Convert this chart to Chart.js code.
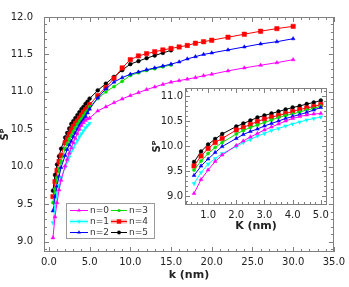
<!DOCTYPE html>
<html>
<head>
<meta charset="utf-8">
<script src="https://cdn.jsdelivr.net/npm/chart.js@4.4.1/dist/chart.umd.min.js"></script>
<style>
  html, body { margin: 0; padding: 0; background: #fff; }
  #wrap { position: relative; width: 349px; height: 287px; }
  #main { position: absolute; left: 0; top: 0; }
  #inset { position: absolute; left: 150px; top: 80px; }
</style>
</head>
<body>
<div id="wrap">
  <canvas id="main" width="349" height="287"></canvas>
  <canvas id="inset" width="184" height="160"></canvas>
</div>
<script>
// k (nm) of every sample
var kValues = [0.5, 0.75, 1.0, 1.25, 1.5, 2.0, 2.25, 2.5, 2.75, 3.0, 3.25, 3.5, 3.75, 4.0, 4.25, 4.5, 4.75, 5.0,
               6, 7, 8, 9, 10, 11, 12, 13, 14, 15, 16,
               17, 18, 19, 20, 22, 24, 26, 28, 30];

// S^P for each n (shorter series stop earlier)
var seriesN0 = [9.05, 9.33, 9.52, 9.69, 9.82, 10.01, 10.10, 10.18, 10.25, 10.32, 10.38, 10.44, 10.50, 10.55, 10.59, 10.62, 10.64, 10.65,
                10.745, 10.80, 10.855, 10.905, 10.95, 10.99, 11.03, 11.065, 11.10, 11.13, 11.15,
                11.17, 11.19, 11.215, 11.235, 11.28, 11.32, 11.355, 11.39, 11.43];
var seriesN1 = [9.25, 9.47, 9.64, 9.75, 9.85, 9.99, 10.07, 10.13, 10.20, 10.25, 10.31, 10.35, 10.40, 10.44, 10.48, 10.52, 10.55, 10.58];
var seriesN2 = [9.41, 9.60, 9.74, 9.87, 9.99, 10.15, 10.23, 10.29, 10.34, 10.40, 10.45, 10.50, 10.55, 10.59, 10.63, 10.67, 10.72, 10.77,
                10.92, 11.04, 11.13, 11.19, 11.235, 11.265, 11.295, 11.32, 11.345, 11.37, 11.40,
                11.44, 11.47, 11.50, 11.52, 11.56, 11.60, 11.64, 11.67, 11.71];
var seriesN3 = [9.52, 9.70, 9.85, 9.97, 10.07, 10.24, 10.31, 10.37, 10.42, 10.47, 10.52, 10.57, 10.61, 10.64, 10.68, 10.72, 10.75, 10.80,
                10.91, 11.00, 11.07, 11.14, 11.22, 11.255, 11.285, 11.31, 11.335, 11.36];
var seriesN4 = [9.60, 9.80, 9.95, 10.07, 10.15, 10.32, 10.37, 10.43, 10.49, 10.54, 10.58, 10.61, 10.65, 10.69, 10.73, 10.76, 10.79, 10.83,
                10.95, 11.06, 11.18, 11.32, 11.43, 11.48, 11.51, 11.535, 11.56, 11.58, 11.60,
                11.62, 11.65, 11.67, 11.69, 11.73, 11.77, 11.81, 11.845, 11.875];
var seriesN5 = [9.68, 9.89, 10.03, 10.14, 10.24, 10.39, 10.45, 10.51, 10.57, 10.61, 10.65, 10.69, 10.73, 10.77, 10.80, 10.84, 10.87, 10.91,
                11.02, 11.11, 11.20, 11.29, 11.37, 11.41, 11.45, 11.485, 11.52, 11.555];

var seriesLabels = ['n=0', 'n=1', 'n=2', 'n=3', 'n=4', 'n=5'];
var seriesValues = [seriesN0, seriesN1, seriesN2, seriesN3, seriesN4, seriesN5];

var mainXTicks = [0, 5, 10, 15, 20, 25, 30, 35];
var mainYTicks = [9.0, 9.5, 10.0, 10.5, 11.0, 11.5, 12.0];
var insetXTicks = [1, 2, 3, 4, 5];
var insetYTicks = [9.0, 9.5, 10.0, 10.5, 11.0];
var insetMaxK = 5;

var styles = [
    { color: '#ff00ff', point: 'triangle', radius: 2.2, rotation: 0 },
    { color: '#00ffff', point: 'triangle', radius: 2.2, rotation: 180, band: true },
    { color: '#0000ff', point: 'triangle', radius: 2.2, rotation: 0 },
    { color: '#00e000', point: 'circle', radius: 1.6, rotation: 0 },
    { color: '#ff0000', point: 'rect', radius: 3.1, rotation: 0, band: true },
    { color: '#000000', point: 'circle', radius: 1.9, rotation: 0 }
];

Chart.defaults.font.family = "'DejaVu Sans', sans-serif";
Chart.defaults.color = '#222';

function makeDatasets(maxK) {
    var datasets = [];
    for (var i = 0; i < seriesValues.length; i++) {
        var s = styles[i];
        var pts = [];
        for (var j = 0; j < seriesValues[i].length; j++) {
            if (kValues[j] > maxK) break;
            pts.push({ x: kValues[j], y: seriesValues[i][j] });
        }
        datasets.push({
            label: seriesLabels[i],
            data: pts,
            borderColor: s.color,
            backgroundColor: s.color,
            borderWidth: 1,
            tension: 0,
            pointStyle: s.point,
            pointRotation: s.rotation,
            pointRadius: s.radius,
            pointBorderWidth: 0.5,
            pointBorderColor: s.color,
            pointBackgroundColor: s.color
        });
    }
    return datasets;
}

// frame + inward ticks on all four sides
var boxTicks = {
    id: 'boxTicks',
    afterDatasetsDraw: function(chart, args, opts) {
        var ctx = chart.ctx, a = chart.chartArea, x = chart.scales.x, y = chart.scales.y;
        ctx.save();
        ctx.strokeStyle = '#808080';
        ctx.lineWidth = 1;
        ctx.beginPath();
        var n0 = Math.ceil(x.min / opts.xMinor - 1e-6), n1 = Math.floor(x.max / opts.xMinor + 1e-6);
        for (var i = n0; i <= n1; i++) {
            var v = i * opts.xMinor;
            var px = Math.round(x.getPixelForValue(v)) + 0.5;
            var major = Math.abs(v / opts.xMajor - Math.round(v / opts.xMajor)) < 1e-6;
            var len = major ? 5 : 3;
            ctx.moveTo(px, a.bottom); ctx.lineTo(px, a.bottom - len);
            ctx.moveTo(px, a.top); ctx.lineTo(px, a.top + len);
        }
        n0 = Math.ceil(y.min / opts.yMinor - 1e-6); n1 = Math.floor(y.max / opts.yMinor + 1e-6);
        for (var k = n0; k <= n1; k++) {
            var w = k * opts.yMinor;
            var py = Math.round(y.getPixelForValue(w)) + 0.5;
            var majorY = Math.abs(w / opts.yMajor - Math.round(w / opts.yMajor)) < 1e-6;
            var lenY = majorY ? 5 : 3;
            ctx.moveTo(a.left, py); ctx.lineTo(a.left + lenY, py);
            ctx.moveTo(a.right, py); ctx.lineTo(a.right - lenY, py);
        }
        ctx.stroke();
        ctx.strokeRect(Math.round(a.left) + 0.5, Math.round(a.top) + 0.5,
                       Math.round(a.right - a.left) - 1, Math.round(a.bottom - a.top) - 1);
        ctx.restore();
    }
};

function drawMarker(ctx, s, x, y) {
    ctx.fillStyle = s.color;
    ctx.beginPath();
    if (s.point === 'circle') {
        ctx.arc(x, y, s.radius, 0, Math.PI * 2);
    } else if (s.point === 'rect') {
        var h = s.radius * Math.SQRT1_2;
        ctx.rect(x - h, y - h, 2 * h, 2 * h);
    } else {
        var r = s.radius, dir = s.rotation ? -1 : 1;
        ctx.moveTo(x, y - dir * r);
        ctx.lineTo(x - r * 0.87, y + dir * r * 0.5);
        ctx.lineTo(x + r * 0.87, y + dir * r * 0.5);
        ctx.closePath();
    }
    ctx.fill();
}

// two-column legend box in the lower left of the main plot
var boxLegend = {
    id: 'boxLegend',
    afterDraw: function(chart) {
        var ctx = chart.ctx;
        ctx.save();
        ctx.fillStyle = '#fff';
        ctx.fillRect(66.5, 203.5, 88, 35);
        ctx.strokeStyle = '#999';
        ctx.lineWidth = 1;
        ctx.strokeRect(66.5, 203.5, 88, 35);
        var rows = [210.5, 221.5, 232.5];
        var cols = [[70, 88], [111, 127]];
        ctx.font = "9px 'DejaVu Sans'";
        ctx.textBaseline = 'middle';
        for (var i = 0; i < seriesLabels.length; i++) {
            var s = styles[i];
            var c = cols[Math.floor(i / 3)], y = rows[i % 3];
            if (s.band) {
                ctx.globalAlpha = 0.3;
                ctx.strokeStyle = s.color;
                ctx.lineWidth = 4;
                ctx.beginPath(); ctx.moveTo(c[0], y); ctx.lineTo(c[1], y); ctx.stroke();
                ctx.globalAlpha = 1;
            }
            ctx.strokeStyle = s.color;
            ctx.lineWidth = 1;
            ctx.beginPath(); ctx.moveTo(c[0], y); ctx.lineTo(c[1], y); ctx.stroke();
            drawMarker(ctx, s, (c[0] + c[1]) / 2, y);
            ctx.fillStyle = '#333';
            ctx.fillText(seriesLabels[i], c[1] + 2, y + 0.5);
        }
        ctx.restore();
    }
};

function fixedTicks(list) {
    return function(scale) {
        scale.ticks = list.map(function(v) { return { value: v }; });
    };
}

new Chart(document.getElementById('main'), {
    type: 'line',
    data: { datasets: makeDatasets(Infinity) },
    options: {
        responsive: false,
        animation: false,
        devicePixelRatio: 1,
        layout: { padding: { top: 8, right: 15, left: 0, bottom: 0 } },
        plugins: {
            legend: { display: false },
            tooltip: { enabled: false },
            boxTicks: { xMinor: 1, xMajor: 5, yMinor: 0.1, yMajor: 0.5 }
        },
        scales: {
            x: {
                type: 'linear',
                min: -0.6,
                max: 35,
                grid: { display: false, drawTicks: false },
                border: { display: false },
                afterBuildTicks: fixedTicks(mainXTicks),
                afterFit: function(scale) { scale.height = 35; },
                ticks: {
                    padding: 4,
                    maxRotation: 0,
                    font: { size: 10 },
                    callback: function(v) { return Number(v).toFixed(1); }
                },
                title: {
                    display: true,
                    text: 'k (nm)',
                    font: { size: 11, weight: 'bold' },
                    padding: { top: 0, bottom: 5 }
                }
            },
            y: {
                min: 8.86,
                max: 12.0,
                grid: { display: false, drawTicks: false },
                border: { display: false },
                afterBuildTicks: fixedTicks(mainYTicks),
                afterFit: function(scale) { scale.width = 44; },
                ticks: {
                    padding: 11,
                    font: { size: 10 },
                    callback: function(v) { return Number(v).toFixed(1); }
                },
                title: {
                    display: true,
                    text: 'Sᴾ',
                    font: { size: 10, weight: 'bold', lineHeight: 1 },
                    padding: { top: 0, bottom: 0 }
                }
            }
        }
    },
    plugins: [boxTicks, boxLegend]
});

new Chart(document.getElementById('inset'), {
    type: 'line',
    data: { datasets: makeDatasets(insetMaxK) },
    options: {
        responsive: false,
        animation: false,
        devicePixelRatio: 1,
        layout: { padding: { top: 8, right: 7, left: 0, bottom: 0 } },
        plugins: {
            legend: { display: false },
            tooltip: { enabled: false },
            boxTicks: { xMinor: 0.2, xMajor: 1, yMinor: 0.1, yMajor: 0.5 }
        },
        scales: {
            x: {
                type: 'linear',
                min: 0.18,
                max: 5.22,
                grid: { display: false, drawTicks: false },
                border: { display: false },
                afterBuildTicks: fixedTicks(insetXTicks),
                afterFit: function(scale) { scale.height = 35; },
                ticks: {
                    padding: 4,
                    maxRotation: 0,
                    font: { size: 10 },
                    callback: function(v) { return Number(v).toFixed(1); }
                },
                title: {
                    display: true,
                    text: 'K (nm)',
                    font: { size: 11, weight: 'bold' },
                    padding: { top: 0, bottom: 7 }
                }
            },
            y: {
                min: 8.82,
                max: 11.16,
                grid: { display: false, drawTicks: false },
                border: { display: false },
                afterBuildTicks: fixedTicks(insetYTicks),
                afterFit: function(scale) { scale.width = 35; },
                ticks: {
                    padding: 2,
                    font: { size: 10 },
                    callback: function(v) { return Number(v).toFixed(1); }
                },
                title: {
                    display: true,
                    text: 'Sᴾ',
                    font: { size: 10, weight: 'bold', lineHeight: 1 },
                    padding: { top: 2.5, bottom: 0 }
                }
            }
        }
    },
    plugins: [boxTicks]
});
</script>
</body>
</html>
